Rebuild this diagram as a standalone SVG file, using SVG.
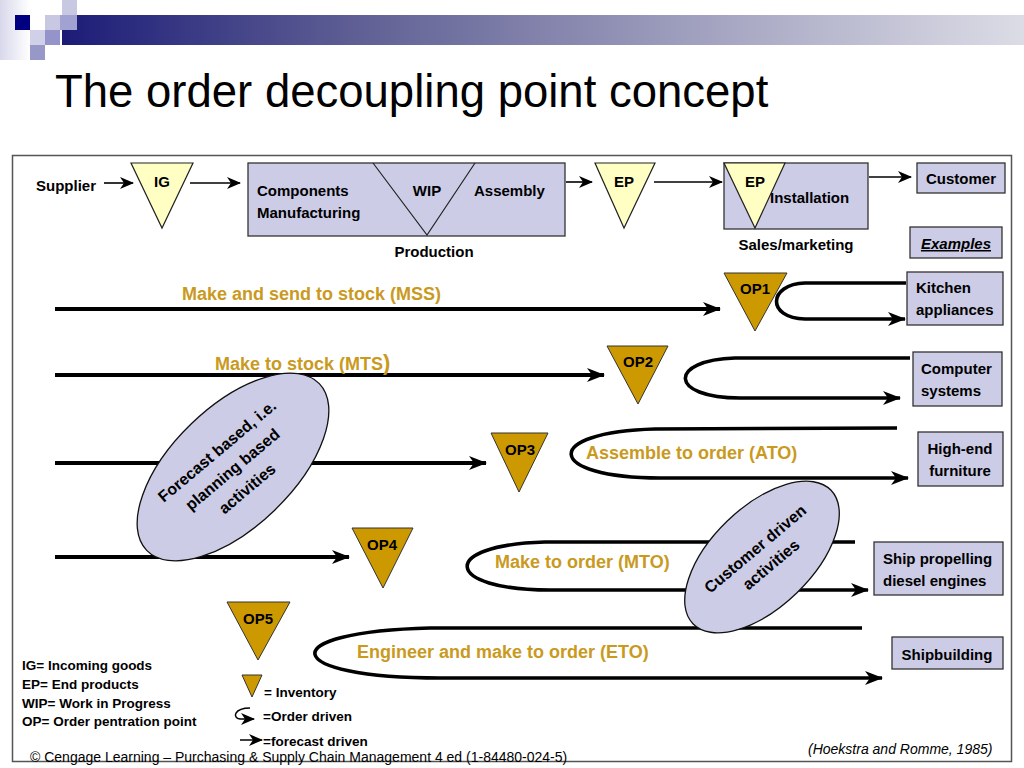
<svg xmlns="http://www.w3.org/2000/svg" width="1024" height="768" viewBox="0 0 1024 768">
<style>
.t{font-family:"Liberation Sans",Arial,sans-serif;font-weight:bold;font-size:15px;fill:#000}
.e{font-family:"Liberation Sans",Arial,sans-serif;font-weight:bold;font-size:16px;fill:#000}
.g{font-family:"Liberation Sans",Arial,sans-serif;font-weight:bold;font-size:18px;fill:#C99A1E}
.lg{font-family:"Liberation Sans",Arial,sans-serif;font-weight:bold;font-size:13.5px;fill:#000}
.box{fill:#CCCCE6;stroke:#333;stroke-width:1.3}
.yel{fill:#FFFFC4;stroke:#222;stroke-width:1.2}
.op{fill:#CC9900;stroke:#333;stroke-width:1}
.thin{fill:none;stroke:#000;stroke-width:1.6;marker-end:url(#ah)}
.thick{fill:none;stroke:#000;stroke-width:4}
.loop{fill:none;stroke:#000;stroke-width:3.6}
.ell{fill:#CCCCE6;stroke:#111;stroke-width:1.3}
</style>
<defs>
<marker id="ah" markerUnits="userSpaceOnUse" markerWidth="14" markerHeight="12" refX="13" refY="6" orient="auto"><path d="M0,0 L14,6 L0,12 L4,6 z" fill="#000"/></marker>
<marker id="AH" markerUnits="userSpaceOnUse" markerWidth="18" markerHeight="14" refX="17" refY="7" orient="auto"><path d="M0,0 L18,7 L0,14 L5,7 z" fill="#000"/></marker>
<linearGradient id="bar" x1="0" y1="0" x2="1" y2="0"><stop offset="0" stop-color="#1C1C78"/><stop offset="0.3" stop-color="#5E5E94"/><stop offset="0.7" stop-color="#A8A8C4"/><stop offset="1" stop-color="#DCDCE6"/></linearGradient>
<linearGradient id="lft" x1="0" y1="0" x2="1" y2="0"><stop offset="0" stop-color="#D8D8EC"/><stop offset="1" stop-color="#FFFFFF"/></linearGradient>
</defs>

<g id="header">
<rect x="0" y="0" width="30" height="60" fill="url(#lft)"/>
<rect x="62" y="15" width="962" height="30" fill="url(#bar)"/>
<rect x="62" y="0" width="15" height="15" fill="#C8C8E2"/>
<rect x="15" y="15" width="15" height="15" fill="#000080"/>
<rect x="45" y="15" width="15" height="15" fill="#C8C8E2"/>
<rect x="60" y="15" width="17" height="15" fill="#A2A2D2"/>
<rect x="30" y="30" width="15" height="15" fill="#D0D0E8"/>
<rect x="45" y="30" width="15" height="15" fill="#9494CA"/>
<rect x="30" y="45" width="15" height="15" fill="#9898C8"/>
</g>

<text x="55" y="107" font-family="'Liberation Sans',Arial,sans-serif" font-size="45.5" fill="#000">The order decoupling point concept</text>

<rect x="12.5" y="155.5" width="999" height="606" fill="none" stroke="#555" stroke-width="1.5"/>

<g id="connectors">
<path class="thin" d="M104,183 L133,183"/>
<path class="thin" d="M190,183 L240,183"/>
<path class="thin" d="M566,182 L592,182"/>
<path class="thin" d="M654,182 L722,182"/>
<path class="thin" d="M869,177 L911,177"/>
<path class="thick" d="M55,309 L720,309" marker-end="url(#AH)"/>
<path class="thick" d="M55,375 L604,375" marker-end="url(#AH)"/>
<path class="thick" d="M55,463 L486,463" marker-end="url(#AH)"/>
<path class="thick" d="M55,557 L349,557" marker-end="url(#AH)"/>
<path class="loop" d="M906,283 L805,283 C768,284 766,318 805,319 L905,319" marker-end="url(#AH)"/>
<path class="loop" d="M910,358 L735,358 C668,360 668,398 740,398 L900,398" marker-end="url(#AH)"/>
<path class="loop" d="M897,428 L655,429 C540,432 545,478 660,478 L908,478" marker-end="url(#AH)"/>
<path class="loop" d="M855,542 L545,542 C438,545 443,590 550,590 L868,590" marker-end="url(#AH)"/>
<path class="loop" d="M862,628 L430,628 C270,632 280,678 440,678 L882,678" marker-end="url(#AH)"/>
</g>

<g id="supplier"><text class="t" x="36" y="191">Supplier</text></g>
<g id="ig"><polygon class="yel" points="131,163 193,163 162,228"/><text class="t" x="162" y="187" text-anchor="middle">IG</text></g>
<g id="production">
<rect class="box" x="248" y="163" width="317" height="73"/>
<polyline points="373,163 427,235 475,163" fill="none" stroke="#222" stroke-width="1.2"/>
<text class="t" x="257" y="196">Components</text>
<text class="t" x="257" y="218">Manufacturing</text>
<text class="t" x="427" y="196" text-anchor="middle">WIP</text>
<text class="t" x="474" y="196">Assembly</text>
<text class="t" x="434" y="257" text-anchor="middle">Production</text>
</g>
<g id="ep1"><polygon class="yel" points="595,163 655,163 624,228"/><text class="t" x="624" y="187" text-anchor="middle">EP</text></g>
<g id="sales">
<rect class="box" x="724" y="163" width="144" height="66"/>
<polygon class="yel" points="724,163 785,163 755,228"/>
<text class="t" x="755" y="187" text-anchor="middle">EP</text>
<text class="t" x="770" y="203">Installation</text>
<text class="t" x="796" y="250" text-anchor="middle">Sales/marketing</text>
</g>
<g id="customer"><rect class="box" x="917" y="163" width="88" height="30"/><text class="t" x="961" y="184" text-anchor="middle">Customer</text></g>
<g id="examples"><rect class="box" x="910" y="227" width="92" height="31"/><text class="t" x="956" y="249" text-anchor="middle" font-style="italic" text-decoration="underline">Examples</text></g>

<g id="mss"><text class="g" x="182" y="300">Make and send to stock (MSS)</text></g>
<g id="op1"><polygon class="op" points="724,273 787,273 755,331"/><text class="t" x="755" y="294" text-anchor="middle">OP1</text></g>
<g id="kitchen"><rect class="box" x="907" y="272" width="96" height="53"/><text class="t" x="916" y="293">Kitchen</text><text class="t" x="916" y="315">appliances</text></g>

<g id="mts"><text class="g" x="215" y="370">Make to stock (MTS<tspan font-size="22">)</tspan></text></g>
<g id="op2"><polygon class="op" points="607,346 668,346 638,404"/><text class="t" x="638" y="367" text-anchor="middle">OP2</text></g>
<g id="computer"><rect class="box" x="913" y="352" width="89" height="54"/><text class="t" x="921" y="374">Computer</text><text class="t" x="921" y="396">systems</text></g>

<g id="forecast">
<ellipse class="ell" cx="233" cy="467" rx="120" ry="60" transform="rotate(-44 233 467)"/>
<g transform="translate(233,467) rotate(-40)">
<text class="e" x="-2" y="-17" text-anchor="middle">Forecast based, i.e.</text>
<text class="e" x="-2" y="7" text-anchor="middle">planning based</text>
<text class="e" x="-3" y="31" text-anchor="middle">activities</text>
</g>
</g>

<g id="op3"><polygon class="op" points="491,433 548,433 519,492"/><text class="t" x="520" y="455" text-anchor="middle">OP3</text></g>
<g id="ato"><text class="g" x="586" y="459">Assemble to order (ATO)</text></g>
<g id="highend"><rect class="box" x="918" y="432" width="85" height="54"/><text class="t" x="960" y="454" text-anchor="middle">High-end</text><text class="t" x="960" y="476" text-anchor="middle">furniture</text></g>

<g id="op4"><polygon class="op" points="352,528 413,528 383,588"/><text class="t" x="382" y="550" text-anchor="middle">OP4</text></g>
<g id="mto"><text class="g" x="495" y="568">Make to order (MTO)</text></g>
<g id="customer-driven">
<ellipse class="ell" cx="762" cy="557" rx="96" ry="50" transform="rotate(-44 762 557)"/>
<g transform="translate(762,557) rotate(-40)">
<text class="e" x="0" y="-5" text-anchor="middle">Customer driven</text>
<text class="e" x="2" y="17" text-anchor="middle">activities</text>
</g>
</g>
<g id="ship"><rect class="box" x="874" y="542" width="129" height="53"/><text class="t" x="883" y="564">Ship propelling</text><text class="t" x="883" y="586">diesel engines</text></g>

<g id="op5"><polygon class="op" points="227,602 290,602 258,660"/><text class="t" x="258" y="624" text-anchor="middle">OP5</text></g>
<g id="eto"><text class="g" x="357" y="658">Engineer and make to order (ETO)</text></g>
<g id="shipbuilding"><rect class="box" x="892" y="637" width="111" height="32"/><text class="t" x="947" y="660" text-anchor="middle">Shipbuilding</text></g>

<g id="legend">
<text class="lg" x="22" y="670">IG= Incoming goods</text>
<text class="lg" x="22" y="689">EP= End products</text>
<text class="lg" x="22" y="708">WIP= Work in Progress</text>
<text class="lg" x="22" y="726">OP= Order pentration point</text>
<polygon class="op" points="242,675 262,675 252,697"/>
<text class="lg" x="264" y="697">= Inventory</text>
<path d="M250,708 C234,708 232,718 240,719 L254,719" fill="none" stroke="#000" stroke-width="1.5" marker-end="url(#ah)"/>
<text class="lg" x="263" y="721">=Order driven</text>
<path d="M240,740 L262,740" fill="none" stroke="#000" stroke-width="1.5" marker-end="url(#ah)"/>
<text class="lg" x="263" y="746">=forecast driven</text>
</g>

<text x="30" y="762" font-family="'Liberation Sans',Arial,sans-serif" font-size="14" fill="#000">© Cengage Learning – Purchasing &amp; Supply Chain Management 4 ed (1-84480-024-5)</text>
<text x="808" y="754" font-family="'Liberation Sans',Arial,sans-serif" font-size="14" font-style="italic" fill="#000">(Hoekstra and Romme, 1985)</text>
</svg>
